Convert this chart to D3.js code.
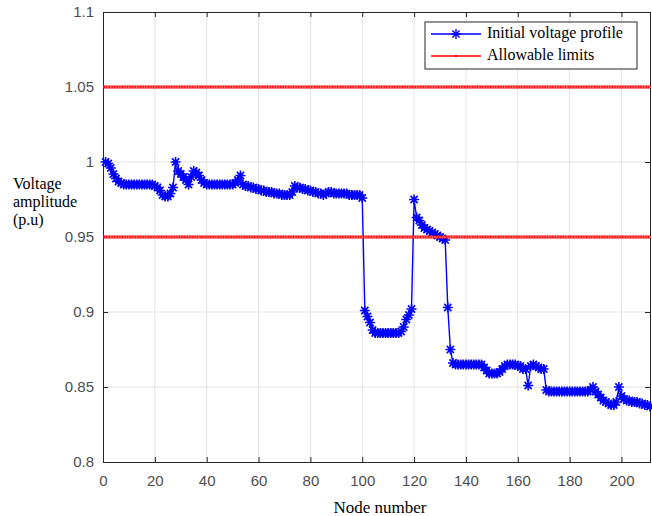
<!DOCTYPE html>
<html>
<head>
<meta charset="utf-8">
<script src="https://cdn.jsdelivr.net/npm/d3@7"></script>
<style>
  body { margin: 0; background: #fff; }
  .tick text { font-family: 'Liberation Sans', Arial, sans-serif; font-size: 15px; fill: #4d4d4d; }
  .label { font-family: 'Liberation Serif', 'Times New Roman', serif; font-size: 16px; fill: #000; }
</style>
</head>
<body>
<script>
// voltage per node (p.u), node 1..211
var voltage = [
  1.000, 0.999, 0.996, 0.992, 0.989, 0.987, 0.986, 0.985, 0.985, 0.985,
  0.985, 0.985, 0.985, 0.985, 0.985, 0.985, 0.985, 0.985, 0.985, 0.984,
  0.983, 0.981, 0.978, 0.977, 0.977, 0.979, 0.983, 1.000, 0.994, 0.992,
  0.990, 0.988, 0.985, 0.990, 0.994, 0.993, 0.991, 0.988, 0.986, 0.985,
  0.985, 0.985, 0.985, 0.985, 0.985, 0.985, 0.985, 0.985, 0.985, 0.985,
  0.986, 0.988, 0.991, 0.985, 0.984, 0.984, 0.983, 0.983, 0.982, 0.982,
  0.981, 0.981, 0.980, 0.980, 0.980, 0.979, 0.979, 0.979, 0.978, 0.978,
  0.978, 0.978, 0.980, 0.984, 0.983, 0.983, 0.982, 0.982, 0.981, 0.981,
  0.980, 0.980, 0.979, 0.979, 0.978, 0.979, 0.980, 0.980, 0.979, 0.979,
  0.979, 0.979, 0.979, 0.979, 0.978, 0.978, 0.978, 0.978, 0.978, 0.976,
  0.901, 0.897, 0.893, 0.888, 0.886, 0.886, 0.886, 0.886, 0.886, 0.886,
  0.886, 0.886, 0.886, 0.886, 0.887, 0.890, 0.895, 0.898, 0.902, 0.975,
  0.963, 0.961, 0.958, 0.956, 0.955, 0.954, 0.953, 0.952, 0.951, 0.950,
  0.949, 0.948, 0.903, 0.875, 0.866, 0.865, 0.865, 0.865, 0.865, 0.865,
  0.865, 0.865, 0.865, 0.865, 0.865, 0.865, 0.863, 0.861, 0.859, 0.859,
  0.859, 0.859, 0.860, 0.862, 0.864, 0.865, 0.865, 0.865, 0.865, 0.864,
  0.864, 0.862, 0.862, 0.851, 0.864, 0.865, 0.864, 0.863, 0.862, 0.862,
  0.848, 0.847, 0.847, 0.847, 0.847, 0.847, 0.847, 0.847, 0.847, 0.847,
  0.847, 0.847, 0.847, 0.847, 0.847, 0.847, 0.847, 0.848, 0.850, 0.847,
  0.845, 0.843, 0.841, 0.840, 0.839, 0.838, 0.838, 0.840, 0.850, 0.844,
  0.842, 0.841, 0.841, 0.840, 0.840, 0.840, 0.839, 0.839, 0.838, 0.838,
  0.837
]
var limits = [0.95, 1.05]
var xTicks = [0, 20, 40, 60, 80, 100, 120, 140, 160, 180, 200]
var yTicks = [0.8, 0.85, 0.9, 0.95, 1, 1.05, 1.1]
var yTickLabels = ['0.8', '0.85', '0.9', '0.95', '1', '1.05', '1.1']
var legendNames = ['Initial voltage profile', 'Allowable limits']

var data = voltage.map(function (v, i) { return {node: i + 1, v: v} })

var margin = {top: 12, right: 2, bottom: 54, left: 103}
var width = 652 - margin.left - margin.right
var height = 516 - margin.top - margin.bottom

var x = d3.scaleLinear().domain([0, 211]).range([0, width])
var y = d3.scaleLinear().domain([0.8, 1.1]).range([height, 0])

var svg = d3.select('body').append('svg')
  .attr('width', 652)
  .attr('height', 516)
  .append('g')
  .attr('transform', 'translate(' + margin.left + ',' + margin.top + ')')

// grid
svg.append('g').selectAll('line')
  .data(xTicks.slice(1))
  .enter().append('line')
  .attr('x1', function (d) { return x(d) })
  .attr('x2', function (d) { return x(d) })
  .attr('y1', 0).attr('y2', height)
  .attr('stroke', '#e3e3e3')
svg.append('g').selectAll('line')
  .data(yTicks.slice(1, -1))
  .enter().append('line')
  .attr('x1', 0).attr('x2', width)
  .attr('y1', function (d) { return y(d) })
  .attr('y2', function (d) { return y(d) })
  .attr('stroke', '#e3e3e3')

// axes
var xAxis = d3.axisBottom(x).tickValues(xTicks).tickSize(-5).tickPadding(13)
var yAxis = d3.axisLeft(y).tickValues(yTicks).tickSize(-5).tickPadding(9)
  .tickFormat(function (d, i) { return yTickLabels[i] })

svg.append('g')
  .attr('transform', 'translate(0,' + height + ')')
  .call(xAxis)
svg.append('g').call(yAxis)
svg.append('g')
  .call(d3.axisTop(x).tickValues(xTicks).tickSize(-5).tickFormat(''))
svg.append('g')
  .attr('transform', 'translate(' + width + ',0)')
  .call(d3.axisRight(y).tickValues(yTicks).tickSize(-5).tickFormat(''))
svg.selectAll('.domain').attr('stroke', '#262626')
svg.selectAll('.tick line').attr('stroke', '#262626')

// voltage profile
var line = d3.line()
  .x(function (d) { return x(d.node) })
  .y(function (d) { return y(d.v) })

svg.append('path')
  .datum(data)
  .attr('fill', 'none')
  .attr('stroke', '#0000ff')
  .attr('stroke-width', 1.4)
  .attr('d', line)

var star = 'M-5,0H5M0,-5V5M-3.6,-3.6L3.6,3.6M-3.6,3.6L3.6,-3.6'
svg.append('g').selectAll('path')
  .data(data)
  .enter().append('path')
  .attr('transform', function (d) { return 'translate(' + x(d.node) + ',' + y(d.v) + ')' })
  .attr('d', star)
  .attr('stroke', '#0000ff')
  .attr('stroke-width', 1.6)
  .attr('fill', 'none')

// limits
limits.forEach(function (l) {
  svg.append('line')
    .attr('x1', x(0)).attr('x2', x(211))
    .attr('y1', y(l)).attr('y2', y(l))
    .attr('stroke', '#ff0000')
    .attr('stroke-width', 3)
  svg.append('g').selectAll('circle')
    .data(data)
    .enter().append('circle')
    .attr('cx', function (d) { return x(d.node) })
    .attr('cy', y(l))
    .attr('r', 0.9)
    .attr('fill', '#ff7070')
})

// axis labels
var yLabel = svg.append('text')
  .attr('class', 'label')
  .attr('x', -90)
  .attr('y', 177)
;['Voltage', 'amplitude', '(p.u)'].forEach(function (t, i) {
  yLabel.append('tspan').attr('x', -90).attr('dy', i === 0 ? 0 : 18).text(t)
})

svg.append('text')
  .attr('class', 'label')
  .style('font-size', '17px')
  .attr('x', 277)
  .attr('y', 501)
  .attr('text-anchor', 'middle')
  .text('Node number')

// legend
var legend = svg.append('g')
  .attr('transform', 'translate(' + (425 - margin.left) + ',' + (22 - margin.top) + ')')
legend.append('rect')
  .attr('width', 212).attr('height', 47)
  .attr('fill', '#fff')
  .attr('stroke', '#262626')

var items = legend.selectAll('.legend')
  .data(legendNames)
  .enter().append('g')
  .attr('class', 'legend')
  .attr('transform', function (d, i) { return 'translate(0,' + (12 + i * 22) + ')' })

items.append('line')
  .attr('x1', 6).attr('x2', 56)
  .attr('stroke', function (d, i) { return i === 0 ? '#0000ff' : '#ff0000' })
  .attr('stroke-width', 1.4)
items.filter(function (d, i) { return i === 0 })
  .append('path')
  .attr('transform', 'translate(31,0)')
  .attr('d', star)
  .attr('stroke', '#0000ff')
  .attr('stroke-width', 1.4)
items.filter(function (d, i) { return i === 1 })
  .append('circle')
  .attr('cx', 31).attr('r', 1.2)
  .attr('fill', '#ff0000')

items.append('text')
  .attr('class', 'label')
  .attr('x', 62)
  .attr('y', 4)
  .text(function (d) { return d })
</script>
</body>
</html>
